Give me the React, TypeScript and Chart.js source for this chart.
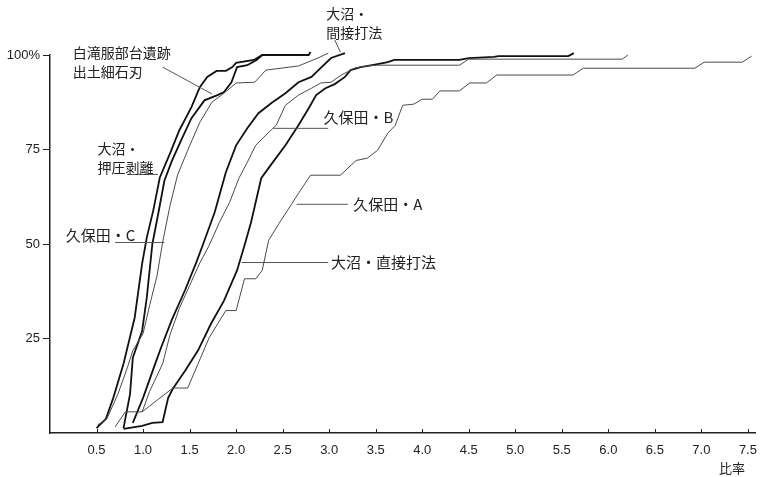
import React, { useEffect, useRef } from "react";
import { Chart, registerables } from "chart.js";

Chart.register(...registerables);

// ---- axis ticks ----
const xTickValues = [0.5, 1.0, 1.5, 2.0, 2.5, 3.0, 3.5, 4.0, 4.5, 5.0, 5.5, 6.0, 6.5, 7.0, 7.5];
const yTickValues = [25, 50, 75, 100];
const yTickLabels = ["25", "50", "75", "100%"];
const xAxisTitle = "比率";

// ---- series (x = 比率, y = cumulative %) ----
const oshiatsuName = "大沼・押圧剥離";
const oshiatsuX = [0.5, 0.6, 0.68, 0.79, 0.91, 0.99, 1.04, 1.11, 1.18, 1.29, 1.39, 1.52, 1.61, 1.69, 1.79, 1.89, 1.96, 2.0, 2.19, 2.28];
const oshiatsuY = [1.3, 3.7, 9.3, 18.3, 30.5, 44.8, 51.7, 58.9, 67.6, 74, 80.1, 86.2, 91.5, 94.2, 95.8, 95.8, 96.8, 97.9, 98.7, 100];

const shiratakiName = "白滝服部台遺跡出土細石刃";
const shiratakiX = [0.79, 0.86, 0.89, 0.99, 1.04, 1.1, 1.16, 1.23, 1.31, 1.41, 1.52, 1.66, 1.8, 1.87, 1.95, 2.01, 2.12, 2.22, 2.28, 2.78, 2.8];
const shiratakiY = [1.3, 10.3, 19.9, 27, 35.8, 50, 57.6, 66.8, 72, 77.5, 83.3, 88, 89.4, 90.2, 92.8, 96.8, 97.3, 98.7, 100, 100, 100.8];

const kuboCName = "久保田・C";
const kuboCX = [0.51, 0.61, 0.73, 0.83, 0.89, 1.0, 1.07, 1.15, 1.21, 1.29, 1.37, 1.48, 1.61, 1.74, 1.87, 2.0, 2.2, 2.32, 2.67, 2.88, 2.99];
const kuboCY = [2.1, 3.7, 10.3, 17.2, 21.8, 26.3, 33.7, 41.6, 50.4, 60.2, 68.2, 74.8, 82.2, 87.5, 89.9, 92.6, 92.8, 96, 97.1, 99.2, 100.5];

const kansetsuName = "大沼・間接打法";
const kansetsuX = [0.89, 1.0, 1.13, 1.2, 1.31, 1.45, 1.57, 1.64, 1.77, 1.89, 2.0, 2.12, 2.24, 2.38, 2.53, 2.67, 2.81, 2.91, 3.02, 3.17];
const kansetsuY = [2.7, 9.3, 18.3, 23, 30, 37.7, 45, 49.6, 58.4, 69, 76.1, 80.6, 84.6, 87.3, 89.9, 92.8, 94.2, 96.6, 99.2, 100.5];

const kuboBName = "久保田・B";
const kuboBX = [0.99, 1.07, 1.21, 1.29, 1.39, 1.5, 1.61, 1.71, 1.82, 1.93, 2.03, 2.12, 2.21, 2.32, 2.43, 2.53, 2.67, 2.81, 2.91, 3.02, 3.13, 3.28, 3.41, 3.52, 4.4, 4.5, 6.15, 6.21];
const kuboBY = [5.6, 11, 18.3, 26, 33, 39, 45, 49.6, 55.7, 61, 67.4, 71.6, 76.1, 78.8, 81.4, 86.7, 89.4, 91.2, 92.6, 92.8, 94.7, 96.6, 97.1, 97.3, 97.3, 98.9, 98.9, 100];

const chokusetsuName = "大沼・直接打法";
const chokusetsuX = [0.79, 0.99, 1.1, 1.21, 1.27, 1.32, 1.45, 1.59, 1.73, 1.87, 2.01, 2.09, 2.16, 2.27, 2.37, 2.53, 2.67, 2.78, 2.86, 2.96, 3.06, 3.17, 3.23, 3.34, 3.52, 3.63, 3.7, 4.4, 4.5, 4.77, 4.82, 5.57, 5.63];
const chokusetsuY = [1.1, 1.9, 2.7, 2.9, 9.3, 11.7, 16.4, 21.8, 28.9, 35, 43, 49.6, 55.7, 67.4, 70.8, 76.1, 81.4, 85.9, 89.4, 91.2, 92.3, 94.2, 96, 96.8, 97.6, 98.1, 98.7, 98.7, 99.2, 99.5, 99.7, 99.7, 100.5];

const kuboAName = "久保田・A";
const kuboAX = [0.7, 0.81, 0.99, 1.32, 1.48, 1.71, 1.89, 2.0, 2.09, 2.21, 2.28, 2.35, 2.46, 2.6, 2.67, 2.8, 3.12, 3.29, 3.41, 3.52, 3.63, 3.71, 3.79, 3.91, 4.0, 4.11, 4.19, 4.4, 4.51, 4.69, 4.8, 5.62, 5.73, 6.93, 7.03, 7.44, 7.54];
const kuboAY = [1.6, 5.6, 5.6, 11.9, 11.9, 25.2, 32.4, 32.4, 40.8, 40.8, 43, 51, 55.4, 60.7, 63.4, 68.2, 68.2, 72.1, 72.7, 74.8, 79.3, 81.4, 86.7, 87, 88.3, 88.3, 90.5, 90.5, 92.6, 92.6, 94.7, 94.7, 96.5, 96.5, 98.1, 98.1, 99.7];

// ---- callout labels (positions in data units) ----
const labelTexts = [
  ["白滝服部台遺跡", "出土細石刃"],
  ["大沼・", "押圧剥離"],
  ["久保田・C"],
  ["大沼・", "間接打法"],
  ["久保田・B"],
  ["久保田・A"],
  ["大沼・直接打法"],
];
const labelSizes = [14, 14, 15, 14, 15, 15, 15];
const labelX = [0.245, 0.51, 0.17, 2.97, 2.94, 3.26, 3.02];
const labelY = [100.5, 75.3, 52.3, 110.9, 83.6, 60.5, 45.1];
const leaderFrom = [[1.21, 96.8], [0.83, 68.4], [0.7, 50.4], [3.06, 104], [2.40, 80.6], [2.65, 60.5], [2.06, 45.1]];
const leaderTo = [[1.74, 89.7], [1.16, 68.4], [1.23, 50.4], [3.12, 100.8], [2.99, 80.6], [3.2, 60.5], [2.99, 45.1]];

const zip = (xs: number[], ys: number[]) => xs.map((x, i) => ({ x, y: ys[i] }));

const THICK = "#111111";
const THIN = "#4a4a4a";
const JP_FONT = "'Noto Sans CJK JP', 'Noto Sans', sans-serif";
const NUM_FONT = "'Liberation Sans', Arial, sans-serif";

const calloutPlugin = {
  id: "callouts",
  afterDraw(chart: any) {
    const { ctx, scales } = chart;
    const xs = scales.x;
    const ys = scales.y;
    ctx.save();
    // inward x ticks
    ctx.strokeStyle = "#222";
    ctx.lineWidth = 1;
    const bottom = chart.chartArea.bottom;
    xTickValues.forEach((v) => {
      const px = Math.round(xs.getPixelForValue(v)) + 0.5;
      ctx.beginPath();
      ctx.moveTo(px, bottom);
      ctx.lineTo(px, bottom - 4);
      ctx.stroke();
    });
    // leader lines
    ctx.strokeStyle = "#555";
    ctx.lineWidth = 1;
    leaderFrom.forEach((f, i) => {
      const t = leaderTo[i];
      ctx.beginPath();
      ctx.moveTo(xs.getPixelForValue(f[0]), ys.getPixelForValue(f[1]));
      ctx.lineTo(xs.getPixelForValue(t[0]), ys.getPixelForValue(t[1]));
      ctx.stroke();
    });
    // label text
    ctx.fillStyle = "#222";
    ctx.textBaseline = "middle";
    ctx.textAlign = "left";
    labelTexts.forEach((lines, i) => {
      ctx.font = `${labelSizes[i]}px ${JP_FONT}`;
      const px = xs.getPixelForValue(labelX[i]);
      const py = ys.getPixelForValue(labelY[i]);
      lines.forEach((s, j) => ctx.fillText(s, px, py + j * 19));
    });
    // axis title
    ctx.textAlign = "center";
    ctx.font = `13px ${JP_FONT}`;
    ctx.fillText(xAxisTitle, xs.getPixelForValue(7.33), bottom + 35);
    ctx.restore();
  },
};

export default function App() {
  const ref = useRef<HTMLCanvasElement | null>(null);
  useEffect(() => {
    document.body.style.margin = "0";
    const canvas = ref.current;
    if (!canvas) return;
    const mk = (label: string, xs: number[], ys: number[], thick: boolean) => ({
      label,
      data: zip(xs, ys),
      borderColor: thick ? THICK : THIN,
      borderWidth: thick ? 1.8 : 1,
      pointRadius: 0,
      tension: 0,
      fill: false,
      clip: false as any,
    });
    const chart = new Chart(canvas, {
      type: "line",
      data: {
        datasets: [
          mk(kuboAName, kuboAX, kuboAY, false),
          mk(kuboBName, kuboBX, kuboBY, false),
          mk(kuboCName, kuboCX, kuboCY, false),
          mk(chokusetsuName, chokusetsuX, chokusetsuY, true),
          mk(kansetsuName, kansetsuX, kansetsuY, true),
          mk(shiratakiName, shiratakiX, shiratakiY, true),
          mk(oshiatsuName, oshiatsuX, oshiatsuY, true),
        ],
      },
      options: {
        responsive: false,
        animation: false,
        devicePixelRatio: 1,
        layout: { padding: { top: 55, right: 5, left: 0, bottom: 0 } },
        plugins: { legend: { display: false }, tooltip: { enabled: false } },
        scales: {
          x: {
            type: "linear",
            min: 0,
            max: 7.58,
            afterFit: (s: any) => { s.height = 44; },
            afterBuildTicks: (s: any) => { s.ticks = xTickValues.map((v) => ({ value: v })); },
            grid: { display: true, drawOnChartArea: false, drawTicks: false },
            border: { display: true, color: "#222", width: 1.5 },
            ticks: {
              padding: 10,
              color: "#222",
              font: { family: NUM_FONT, size: 13 },
              callback: (v: any) => Number(v).toFixed(1),
              maxRotation: 0,
              autoSkip: false,
            },
          },
          y: {
            type: "linear",
            min: 0,
            max: 100,
            afterFit: (s: any) => { s.width = 50; },
            afterBuildTicks: (s: any) => { s.ticks = yTickValues.map((v) => ({ value: v })); },
            grid: { display: true, drawOnChartArea: false, drawTicks: true, tickLength: 7, color: "#222" },
            border: { display: true, color: "#222", width: 1.5 },
            ticks: {
              padding: 3,
              color: "#222",
              font: { family: NUM_FONT, size: 13 },
              callback: (v: any) => yTickLabels[yTickValues.indexOf(Number(v))] ?? "",
            },
          },
        },
      },
      plugins: [calloutPlugin],
    });
    return () => chart.destroy();
  }, []);
  return <canvas ref={ref} width={767} height={477} style={{ display: "block" }} />;
}
